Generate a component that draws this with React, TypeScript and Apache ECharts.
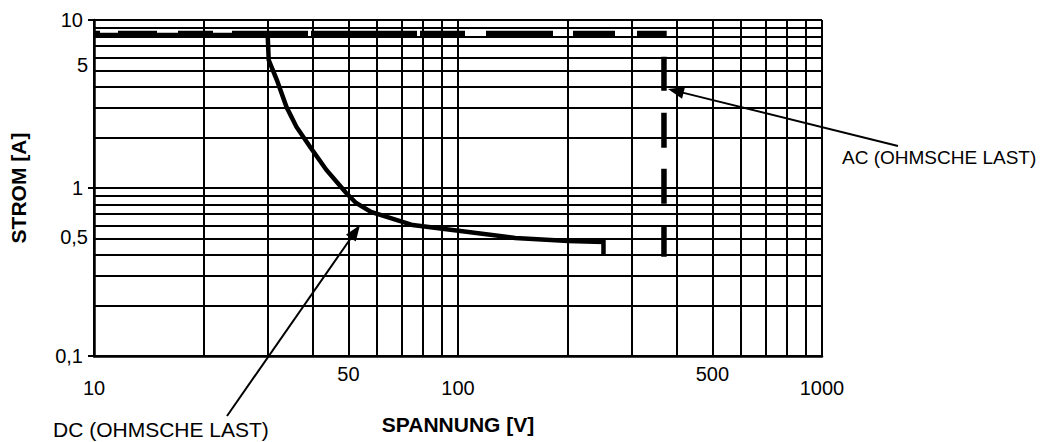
import React, { useEffect, useRef } from "react";
import * as echarts from "echarts";

// Grid line values (log-log chart)
const xGridValues = [10, 20, 30, 40, 50, 60, 70, 80, 90, 100, 200, 300, 400, 500, 600, 700, 800, 900, 1000];
const yGridValues = [0.1, 0.2, 0.3, 0.4, 0.5, 0.6, 0.7, 0.8, 0.9, 1, 2, 3, 4, 5, 6, 7, 8, 9, 10];
// Tick labels
const xMajorLabels = [10, 100, 1000];
const xMinorLabels = [50, 500];
const yMajorLabels = [0.1, 1, 10];
const yMinorLabels = [0.5, 5];

// DC (ohmsche Last) curve
const dcVoltage = [10, 30, 30.2, 31.8, 33.8, 36.0, 39.3, 43.5, 49.3, 52.5, 57.7, 75.1, 96.6, 143.6, 201, 251, 251];
const dcCurrent = [8.15, 8.15, 5.78, 4.39, 3.03, 2.31, 1.75, 1.28, 0.933, 0.814, 0.72, 0.602, 0.562, 0.504, 0.484, 0.477, 0.405];

// AC (ohmsche Last) curve
const acVoltage = [10, 368, 368];
const acCurrent = [8.3, 8.3, 0.39];

const FONT = "'Liberation Sans', Arial, sans-serif";
const fmt = (v: number | string) => String(v).replace(".", ",");

function arrow(x1: number, y1: number, x2: number, y2: number) {
  const dx = x2 - x1;
  const dy = y2 - y1;
  const len = Math.hypot(dx, dy);
  const ux = dx / len;
  const uy = dy / len;
  const hl = 16;
  const hw = 6;
  const bx = x2 - ux * hl;
  const by = y2 - uy * hl;
  return [
    { type: "line", silent: true, shape: { x1, y1, x2: bx + ux * 2, y2: by + uy * 2 }, style: { stroke: "#000", lineWidth: 2 } },
    {
      type: "polygon",
      silent: true,
      shape: { points: [[x2, y2], [bx - uy * hw, by + ux * hw], [bx + uy * hw, by - ux * hw]] },
      style: { fill: "#000" },
    },
  ];
}

export default function App() {
  const ref = useRef<HTMLDivElement>(null);
  useEffect(() => {
    if (!ref.current) return;
    const chart = echarts.init(ref.current, undefined, { renderer: "svg" });
    const labelStyle = { color: "#000", fontSize: 20, fontFamily: FONT };
    const option: any = {
      animation: false,
      backgroundColor: "#fff",
      grid: { left: 89, right: 241, top: 20, bottom: 86, containLabel: false },
      xAxis: [
        {
          type: "log",
          logBase: 10,
          min: 10,
          max: 1000,
          position: "bottom",
          axisLine: { show: true, lineStyle: { color: "#000", width: 2.5 } },
          axisTick: { show: false, customValues: xGridValues },
          splitLine: { show: true, lineStyle: { color: "#000", width: 2 } },
          axisLabel: { customValues: xMajorLabels, margin: 22, formatter: fmt, ...labelStyle },
          name: "SPANNUNG [V]",
          nameLocation: "middle",
          nameGap: 58,
          nameTextStyle: { fontWeight: "bold", fontSize: 21, color: "#000", fontFamily: FONT },
        },
        {
          type: "log",
          logBase: 10,
          min: 10,
          max: 1000,
          position: "bottom",
          axisLine: { show: false },
          axisTick: { show: false },
          splitLine: { show: false },
          axisLabel: { customValues: xMinorLabels, margin: 8, formatter: fmt, ...labelStyle },
        },
      ],
      yAxis: [
        {
          type: "log",
          logBase: 10,
          min: 0.1,
          max: 10,
          position: "left",
          axisLine: { show: true, lineStyle: { color: "#000", width: 2.5 } },
          axisTick: { show: false, customValues: yGridValues },
          splitLine: { show: true, lineStyle: { color: "#000", width: 2 } },
          axisLabel: { show: false },
        },
        {
          type: "log",
          logBase: 10,
          min: 0.1,
          max: 10,
          position: "left",
          axisLine: { show: false },
          axisTick: { show: true, length: 6, lineStyle: { color: "#000", width: 2 } },
          splitLine: { show: false },
          axisLabel: { customValues: yMajorLabels, margin: 11, formatter: fmt, ...labelStyle },
          name: "STROM [A]",
          nameLocation: "middle",
          nameGap: 65,
          nameRotate: 90,
          nameTextStyle: { fontWeight: "bold", fontSize: 21, color: "#000", fontFamily: FONT },
        },
        {
          type: "log",
          logBase: 10,
          min: 0.1,
          max: 10,
          position: "left",
          axisLine: { show: false },
          axisTick: { show: false },
          splitLine: { show: false },
          axisLabel: {
            customValues: yMinorLabels,
            margin: 6,
            formatter: (v: number) => (v >= 5 ? "{a|" + fmt(v) + "}" : "{b|" + fmt(v) + "}"),
            rich: {
              a: { padding: [0, 0, 11, 0], ...labelStyle },
              b: { padding: [0, 0, 4, 0], ...labelStyle },
            },
            ...labelStyle,
          },
        },
      ],
      series: [
        {
          type: "line",
          name: "DC (OHMSCHE LAST)",
          xAxisIndex: 0,
          yAxisIndex: 0,
          data: dcVoltage.map((v, i) => [v, dcCurrent[i]]),
          symbol: "none",
          silent: true,
          lineStyle: { color: "#000", width: 4.5, join: "miter", cap: "butt" },
        },
        {
          type: "line",
          name: "AC (OHMSCHE LAST)",
          xAxisIndex: 0,
          yAxisIndex: 0,
          data: acVoltage.map((v, i) => [v, acCurrent[i]]),
          symbol: "none",
          silent: true,
          lineStyle: {
            color: "#000",
            width: 5.5,
            cap: "butt",
            join: "miter",
            type: [6, 18, 39, 21, 35, 19, 76, 3, 106, 3, 45, 21, 67, 20, 42, 22, 31, 19, 34, 22, 35, 21, 35, 22, 35, 40],
          },
        },
      ],
      graphic: [
        ...arrow(898, 146, 668, 89),
        ...arrow(227, 416, 360, 225),
        {
          type: "text",
          silent: true,
          x: 842,
          y: 157,
          style: { text: "AC (OHMSCHE LAST)", fill: "#000", fontSize: 19, fontFamily: FONT, verticalAlign: "middle", textVerticalAlign: "middle" },
        },
        {
          type: "text",
          silent: true,
          x: 53,
          y: 429,
          style: { text: "DC (OHMSCHE LAST)", fill: "#000", fontSize: 21, fontFamily: FONT, verticalAlign: "middle", textVerticalAlign: "middle" },
        },
      ],
    };
    chart.setOption(option);
    return () => chart.dispose();
  }, []);
  return <div ref={ref} style={{ position: "fixed", left: 0, top: 0, width: 1063, height: 442 }} />;
}
